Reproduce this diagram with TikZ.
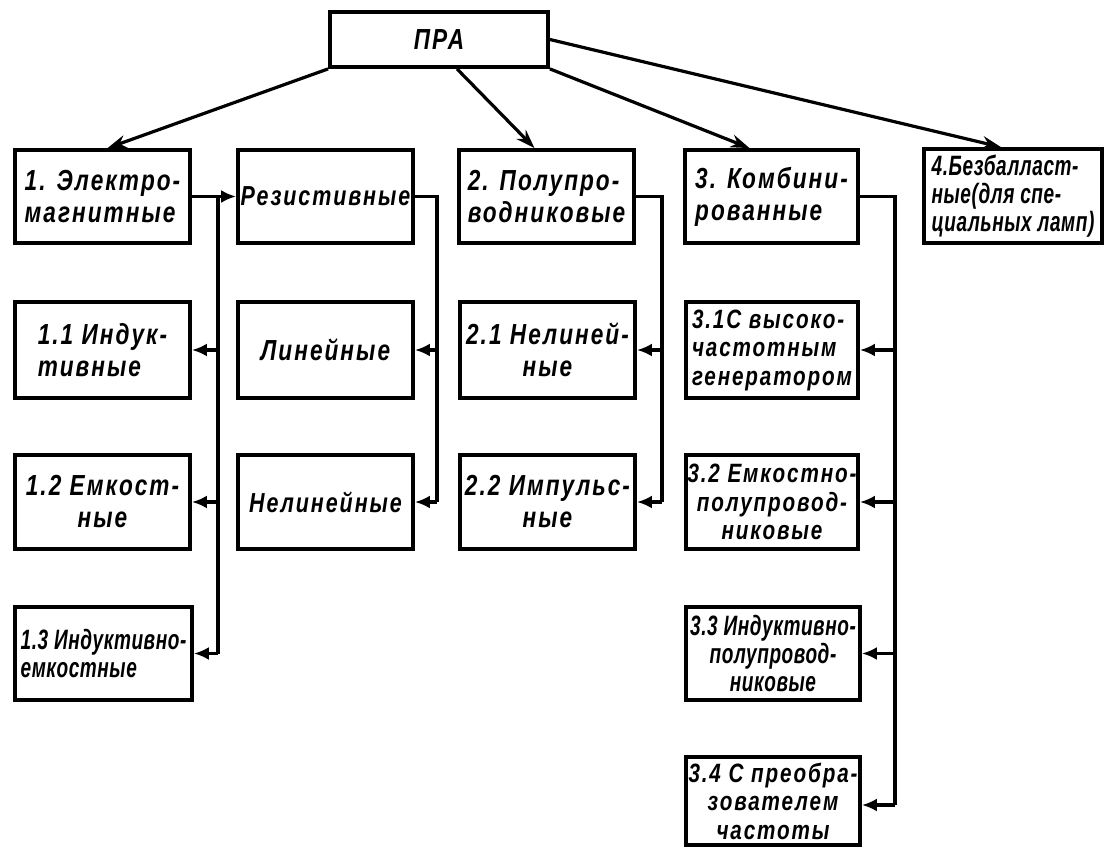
\documentclass[tikz,border=0pt]{standalone}
\usepackage{fontspec}
\newfontfamily\labw{Liberation Sans}[FakeStretch=0.78,LetterSpace=7]
\newfontfamily\labn{Liberation Sans}[FakeStretch=0.68,LetterSpace=2]
\usetikzlibrary{arrows.meta,calc}
\begin{document}
\begin{tikzpicture}[x=1pt,y=-1pt,
  box/.style={draw, line width=3.8pt, inner sep=0pt, align=center,
    font=\labw\bfseries\itshape\fontsize{29}{32}\selectfont},
  snug/.style={font=\labw\bfseries\itshape\fontsize{27.5}{32}\selectfont},
  narrowtxt/.style={font=\labn\bfseries\itshape\fontsize{28}{28}\selectfont},
  three/.style={font=\labw\bfseries\itshape\fontsize{26.5}{28.5}\selectfont},
  lvl/.style={box, minimum width=175pt, minimum height=94pt},
  topbox/.style={box, minimum width=218pt, minimum height=55pt},
  link/.style={line width=3.2pt},
  arr/.style={line width=3.2pt, -{Latex[length=15pt,width=13pt]}},
  toparr/.style={line width=3.2pt, -{Stealth[length=19pt,width=13pt]}}]
\useasboundingbox (0,0) rectangle (1112,848);

% top
\node[topbox] (pra) at (439,39.5) {ПРА};

% level 1
\node[lvl, align=left, minimum height=93pt] (b1) at (102.5,196.5) {1. Электро-\\магнитные};
\node[lvl, snug, minimum height=93pt] (rez) at (325.5,196.5) {Резистивные};
\node[lvl, align=left, minimum height=93pt] (b2) at (546.5,196.5) {2. Полупро-\\водниковые};
\node[lvl, align=left, minimum width=173pt, minimum height=93pt] (b3) at (771.5,196.5) {3. Комбини-\\рованные};
\node[lvl, narrowtxt, align=left, minimum width=178pt, minimum height=94pt] (b4) at (1013,196) {4.Безбалласт-\\ные(для спе-\\циальных ламп)};

% level 2
\node[lvl, align=left, minimum height=96pt] (b11) at (102.5,350) {1.1 Индук-\\тивные};
\node[lvl, minimum height=96pt] (lin) at (325.5,350) {Линейные};
\node[lvl, minimum height=96pt] (b21) at (547.5,350) {2.1 Нелиней-\\ные};
\node[lvl, three, align=left, minimum width=172pt, minimum height=96pt] (b31) at (772,350) {3.1С высоко-\\частотным\\генератором};

% level 3
\node[lvl] (b12) at (102.5,502) {1.2 Емкост-\\ные};
\node[lvl, snug] (nel) at (325.5,502) {Нелинейные};
\node[lvl] (b22) at (547.5,502) {2.2 Импульс-\\ные};
\node[lvl, three, minimum width=172pt] (b32) at (772,502) {3.2 Емкостно-\\полупровод-\\никовые};

% level 4
\node[lvl, narrowtxt, align=left, minimum width=177pt, minimum height=93pt] (b13) at (103.5,653.5) {1.3 Индуктивно-\\емкостные};
\node[lvl, narrowtxt, minimum width=174pt, minimum height=93pt] (b33) at (773,653.5) {3.3 Индуктивно-\\полупровод-\\никовые};

% level 5
\node[lvl, three, minimum width=174pt, minimum height=88pt] (b34) at (773,801) {3.4 С преобра-\\зователем\\частоты};

% arrows from the top
\draw[toparr] (pra.south west) -- ($(b1.north)+(5,0)$);
\draw[toparr] ($(pra.south)+(18,0)$) -- ($(b2.north)+(-12,0)$);
\draw[toparr] (pra.south east) -- ($(b3.north)+(-22,0)$);
\draw[toparr] (pra.east) -- ($(b4.north)+(-12,0)$);

% bus coordinates
\coordinate (x1) at (218,0);
\coordinate (x2) at (437,0);
\coordinate (x3) at (662,0);
\coordinate (x4) at (895,0);

% branch 1
\draw[arr] (b1.east) -- (rez.west);
\draw[link] (b1.east -| x1) -- (b13.east -| x1);
\draw[arr] (b11.east -| x1) -- (b11.east);
\draw[arr] (b12.east -| x1) -- (b12.east);
\draw[arr] (b13.east -| x1) -- (b13.east);

% resistive
\draw[link] (rez.east) -- (rez.east -| x2) -- (nel.east -| x2);
\draw[arr] (lin.east -| x2) -- (lin.east);
\draw[arr] (nel.east -| x2) -- (nel.east);

% semiconductor
\draw[link] (b2.east) -- (b2.east -| x3) -- (b22.east -| x3);
\draw[arr] (b21.east -| x3) -- (b21.east);
\draw[arr] (b22.east -| x3) -- (b22.east);

% combined
\draw[link] (b3.east) -- (b3.east -| x4) -- ($(b34.east -| x4)+(0,4)$);
\draw[arr] (b31.east -| x4) -- (b31.east);
\draw[arr] (b32.east -| x4) -- (b32.east);
\draw[arr] (b33.east -| x4) -- (b33.east);
\draw[arr] ($(b34.east -| x4)+(0,4)$) -- ($(b34.east)+(0,4)$);
\end{tikzpicture}
\end{document}
